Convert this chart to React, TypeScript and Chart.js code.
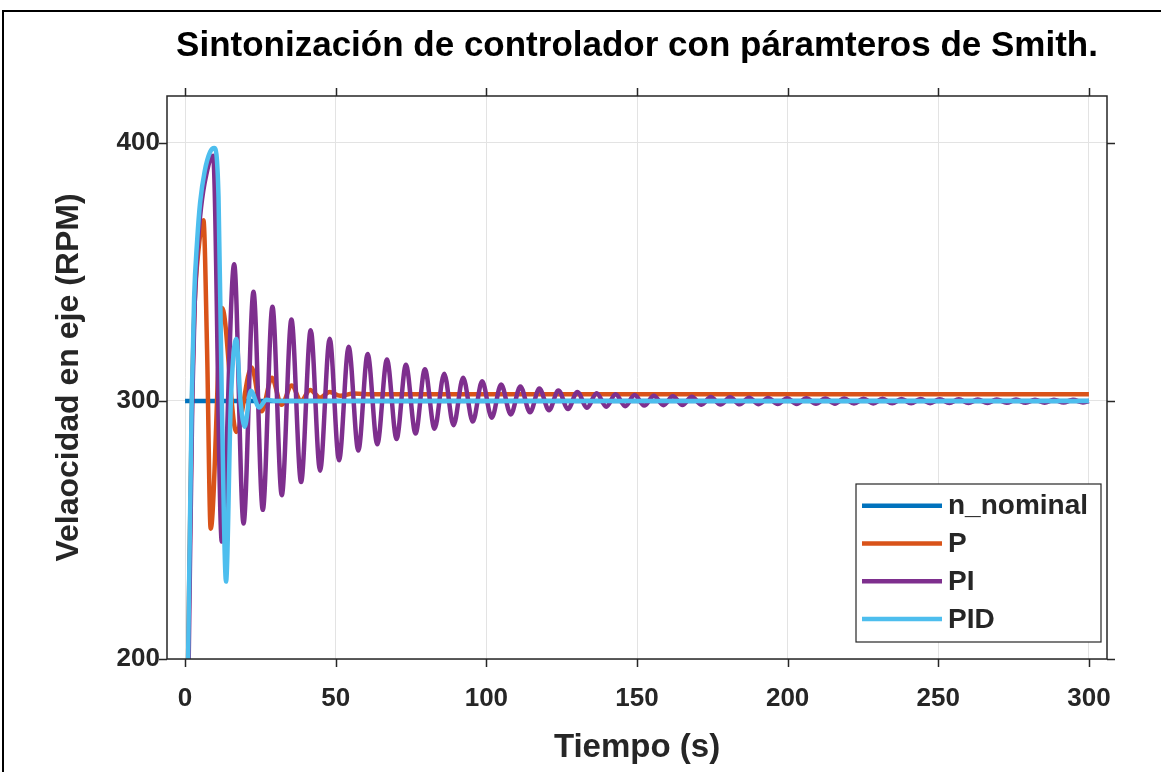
import React, { useEffect, useRef } from 'react';
import { Chart, registerables } from 'chart.js';

Chart.register(...registerables);

const titleText = 'Sintonización de controlador con páramteros de Smith.';
const xLabel = 'Tiempo (s)';
const yLabel = 'Velaocidad en eje (RPM)';
const seriesNames = ['n_nominal', 'P', 'PI', 'PID'];
const seriesColors = ['#0072BD', '#D95319', '#7E2F8E', '#4DBEEE'];

const xMin = -6;
const xMax = 306;
const yMin = 200;
const yMax = 418.2;
const xStep = 50;
const yStep = 100;

const nominalTime = [0, 300];
const nominalValue = [300, 300];

const pTime = [1.0, 2.3, 3.2, 4.4, 6.1, 7.3, 8.5, 12.3, 17.0, 22.1, 25.4, 28.8, 32.0, 35.4, 38.5, 41.5, 44.8, 48.0, 51.5, 56.0, 62.0, 300];
const pValue = [200, 300, 338, 358, 370, 320, 250.5, 336, 288, 313, 296, 309, 298.5, 306, 300, 304.3, 301.3, 303.5, 302.0, 302.9, 302.6, 302.6];

const piTime = [
  1.2, 2.4, 3.2, 4.2, 5.3, 7.0, 9.3, 12.2, 16.3, 19.4, 22.7, 25.8, 29.0, 32.1, 35.3, 38.5, 41.7, 44.8, 48.0, 51.1, 54.3, 57.5, 60.6,
  63.8, 67.0, 70.2, 73.3, 76.5, 79.6, 82.8, 86.0, 89.1, 92.3, 95.5, 98.6, 101.8, 104.9, 108.1, 111.3, 114.5, 117.6, 120.8, 123.9,
  127.1, 130.2, 133.4, 136.6, 139.8, 142.9, 146.1, 149.2, 152.4, 155.6, 158.8, 161.9, 165.1, 168.2, 171.4, 174.5, 177.7, 180.9, 184.1, 187.2,
  190.4, 193.5, 196.7, 199.8, 203.0, 206.2, 209.4, 212.5, 215.7, 218.8, 222.0, 225.2, 228.4, 231.5, 234.7, 237.8, 241.0, 244.1, 247.3, 250.5,
  253.7, 256.8, 260.0, 263.1, 266.3, 269.4, 272.7, 275.8, 279.0, 282.1, 285.3, 288.4, 291.6, 294.7, 298.0, 300.0,
];
const piValue = [
  200, 300, 338, 360, 375, 387.5, 395, 245.5, 353, 252.5, 342.3, 257.8, 336.5, 263.5, 331.6, 268.6, 327.4, 273, 324.1, 277, 321, 280.8, 318.2,
  283.2, 316.1, 285.3, 314, 287.4, 312.3, 289.2, 310.6, 290.6, 309, 292, 307.6, 293.5, 306.4, 294.8, 305.6, 295.6, 304.8, 296.4, 304.1,
  296.9, 303.5, 297.4, 303.0, 297.8, 302.6, 298.0, 302.3, 298.2, 302.0, 298.35, 301.8, 298.45, 301.6, 298.55, 301.5, 298.6, 301.4, 298.7, 301.3,
  298.75, 301.2, 298.8, 301.1, 298.85, 301.05, 298.9, 301.0, 298.95, 300.95, 299.0, 300.9, 299.05, 300.85, 299.1, 300.8, 299.1, 300.75, 299.15, 300.7,
  299.2, 300.65, 299.2, 300.6, 299.25, 300.6, 299.3, 300.55, 299.3, 300.5, 299.35, 300.5, 299.4, 300.45, 299.45, 300.0,
];

const pidTime = [1.0, 2.2, 3.0, 4.0, 5.0, 6.5, 8.3, 9.7, 11.1, 12.2, 13.6, 15.2, 17.0, 18.4, 19.8, 21.8, 24.6, 27.0, 30.0, 300];
const pidValue = [200, 300, 340, 362, 377, 389, 396.5, 398, 379, 300, 230, 300, 324, 300, 290, 304, 297.5, 300.5, 300, 300];

const toPoints = (t: number[], v: number[]) => t.map((x, i) => ({ x, y: v[i] }));

const FONT = '"Liberation Sans", Arial, Helvetica, sans-serif';
const TEXT = '#262626';

const decorPlugin = {
  id: 'matlabDecor',
  beforeDraw(chart: any) {
    const ctx = chart.ctx;
    ctx.save();
    ctx.fillStyle = '#ffffff';
    ctx.fillRect(0, 0, chart.width, chart.height);
    ctx.strokeStyle = '#000000';
    ctx.lineWidth = 2;
    ctx.strokeRect(3, 11, chart.width + 20, chart.height + 20);
    ctx.restore();
  },
  afterDraw(chart: any) {
    const ctx = chart.ctx;
    const { left, right, top, bottom } = chart.chartArea;
    const xs = chart.scales.x;
    const ys = chart.scales.y;
    ctx.save();
    ctx.strokeStyle = TEXT;
    ctx.lineWidth = 1.5;
    ctx.strokeRect(left, top, right - left, bottom - top);
    const tl = 8;
    ctx.beginPath();
    xs.ticks.forEach((t: any) => {
      const px = Math.round(xs.getPixelForValue(t.value)) + 0.5;
      ctx.moveTo(px, bottom);
      ctx.lineTo(px, bottom + tl);
      ctx.moveTo(px, top);
      ctx.lineTo(px, top - tl);
    });
    ys.ticks.forEach((t: any) => {
      const py = Math.round(ys.getPixelForValue(t.value)) + 0.5;
      ctx.moveTo(left, py);
      ctx.lineTo(left - tl, py);
      ctx.moveTo(right, py);
      ctx.lineTo(right + tl, py);
    });
    ctx.stroke();

    ctx.fillStyle = '#000000';
    ctx.font = `bold 35px ${FONT}`;
    ctx.textAlign = 'center';
    ctx.textBaseline = 'alphabetic';
    ctx.fillText(titleText, (left + right) / 2, 56);

    ctx.fillStyle = TEXT;
    ctx.font = `bold 33px ${FONT}`;
    ctx.textBaseline = 'middle';
    ctx.fillText(xLabel, (left + right) / 2, 748);
    ctx.save();
    ctx.font = `bold 32px ${FONT}`;
    ctx.translate(69, (top + bottom) / 2);
    ctx.rotate(-Math.PI / 2);
    ctx.fillText(yLabel, 0, 0);
    ctx.restore();

    const lx0 = right - 251;
    const ly0 = bottom - 175;
    const lw = 245;
    const lh = 158;
    ctx.fillStyle = '#ffffff';
    ctx.fillRect(lx0, ly0, lw, lh);
    ctx.strokeStyle = TEXT;
    ctx.lineWidth = 1.2;
    ctx.strokeRect(lx0, ly0, lw, lh);
    ctx.font = `bold 28px ${FONT}`;
    ctx.textAlign = 'left';
    ctx.textBaseline = 'middle';
    seriesNames.forEach((name, i) => {
      const yy = ly0 + 21.7 + i * 37.8;
      ctx.strokeStyle = seriesColors[i];
      ctx.lineWidth = 4.5;
      ctx.beginPath();
      ctx.moveTo(lx0 + 6, yy);
      ctx.lineTo(lx0 + 86, yy);
      ctx.stroke();
      ctx.fillStyle = TEXT;
      ctx.fillText(name, lx0 + 92, yy + 1);
    });
    ctx.restore();
  },
};

export default function App() {
  const ref = useRef<HTMLCanvasElement | null>(null);
  useEffect(() => {
    if (!ref.current) return;
    const mk = (i: number, t: number[], v: number[], order: number) => ({
      label: seriesNames[i],
      data: toPoints(t, v),
      borderColor: seriesColors[i],
      backgroundColor: seriesColors[i],
      borderWidth: 4.5,
      pointRadius: 0,
      fill: false,
      cubicInterpolationMode: 'monotone' as const,
      order,
    });
    const chart = new Chart(ref.current, {
      type: 'line',
      data: {
        datasets: [
          mk(0, nominalTime, nominalValue, 4),
          mk(1, pTime, pValue, 3),
          mk(2, piTime, piValue, 2),
          mk(3, pidTime, pidValue, 1),
        ],
      },
      options: {
        animation: false,
        responsive: false,
        devicePixelRatio: 1,
        layout: { padding: { left: 0, right: 54, top: 96, bottom: 0 } },
        plugins: { legend: { display: false }, title: { display: false }, tooltip: { enabled: false } },
        scales: {
          x: {
            type: 'linear',
            min: xMin,
            max: xMax,
            border: { display: false },
            grid: { color: '#e3e3e3', lineWidth: 1, drawTicks: false },
            ticks: {
              stepSize: xStep,
              includeBounds: false,
              padding: 24,
              color: TEXT,
              font: { family: FONT, size: 26, weight: 'bold' },
              maxRotation: 0,
            },
            afterFit: (s: any) => { s.height = 113; },
          },
          y: {
            type: 'linear',
            min: yMin,
            max: yMax,
            border: { display: false },
            grid: { color: '#e3e3e3', lineWidth: 1, drawTicks: false },
            ticks: {
              stepSize: yStep,
              includeBounds: false,
              padding: 7,
              color: TEXT,
              font: { family: FONT, size: 26, weight: 'bold' },
            },
            afterFit: (s: any) => { s.width = 167; },
          },
        },
      },
      plugins: [decorPlugin],
    });
    return () => chart.destroy();
  }, []);
  return (
    <div style={{ position: 'absolute', left: 0, top: 0, width: 1161, height: 772, overflow: 'hidden' }}>
      <canvas ref={ref} width={1161} height={772} style={{ display: 'block', width: 1161, height: 772 }} />
    </div>
  );
}
